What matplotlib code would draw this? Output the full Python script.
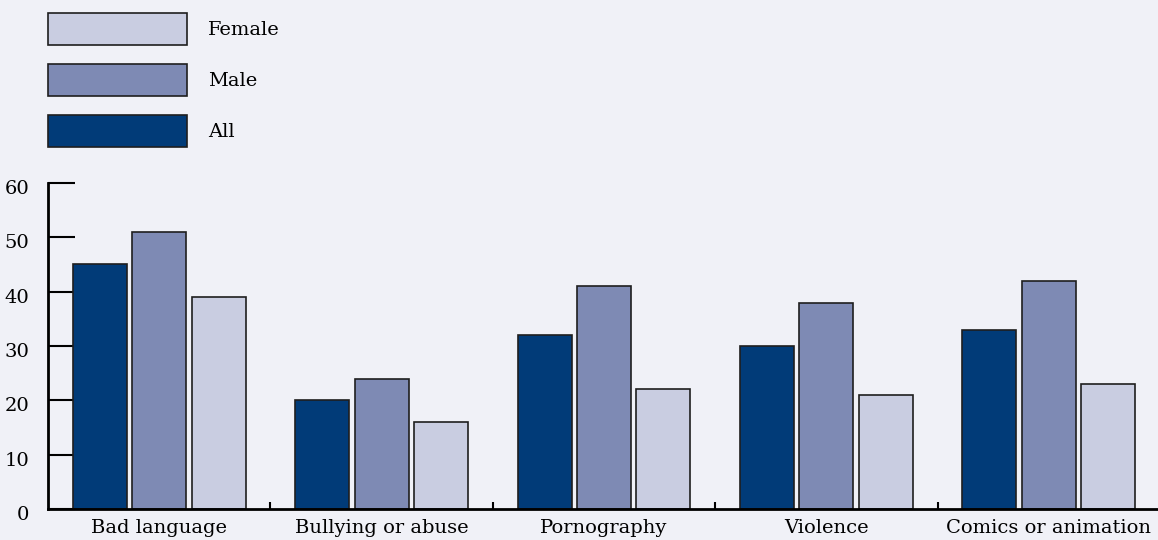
import numpy as np
import matplotlib.pyplot as plt
from matplotlib.patches import Patch
from matplotlib.ticker import FixedLocator
from matplotlib.transforms import ScaledTranslation

# -------------------------------------------------------------------------
# DATA
# -------------------------------------------------------------------------
categories = ["Bad language", "Bullying or abuse", "Pornography", "Violence",
              "Comics or animation"]
all_vals = [45, 20, 32, 30, 33]
male_vals = [51, 24, 41, 38, 42]
female_vals = [39, 16, 22, 21, 23]
y_ticks = [0, 10, 20, 30, 40, 50, 60]

# -------------------------------------------------------------------------
# STYLE
# -------------------------------------------------------------------------
BG = "#f0f1f7"
C_ALL = "#013b78"
C_MALE = "#7e8ab4"
C_FEMALE = "#c9cde1"
EDGE = "#1e1e1e"
FS = 14

plt.rcParams["font.family"] = ["DejaVu Serif"]
plt.rcParams["font.size"] = FS

fig = plt.figure(figsize=(11.58, 5.4), dpi=100, facecolor=BG)
ax = fig.add_axes([48 / 1158, 31 / 540, 1112 / 1158, 326 / 540])
ax.set_facecolor(BG)

x = np.arange(len(categories))
pitch = 0.267
width = 0.243

ax.bar(x - pitch, all_vals, width, color=C_ALL, edgecolor=EDGE, linewidth=1.2,
       label="All", zorder=3)
ax.bar(x, male_vals, width, color=C_MALE, edgecolor=EDGE, linewidth=1.2,
       label="Male", zorder=3)
ax.bar(x + pitch, female_vals, width, color=C_FEMALE, edgecolor=EDGE,
       linewidth=1.2, label="Female", zorder=3)

ax.set_xlim(-0.5, len(categories) - 0.5)
ax.set_ylim(0, 60)

# axes / ticks
for side in ("top", "right"):
    ax.spines[side].set_visible(False)
for side in ("left", "bottom"):
    ax.spines[side].set_linewidth(2)
    ax.spines[side].set_color("black")
    ax.spines[side].set_zorder(4)

ax.set_yticks(y_ticks)
ax.tick_params(axis="y", direction="in", length=19.5, width=1.5, pad=13.5,
               labelsize=FS, colors="black")
# labels in the reference sit a few px below their ticks
shift = ScaledTranslation(0, -4 / 100, fig.dpi_scale_trans)
for lab in ax.get_yticklabels():
    lab.set_transform(lab.get_transform() + shift)

ax.set_xticks(x)
ax.set_xticklabels(categories)
ax.tick_params(axis="x", which="major", length=0, pad=7, labelsize=FS)
ax.xaxis.set_minor_locator(FixedLocator(x[:-1] + 0.5))
ax.tick_params(axis="x", which="minor", direction="in", length=5, width=1.5)

# legend above the plot
handles = [
    Patch(facecolor=C_FEMALE, edgecolor=EDGE, linewidth=1.2, label="Female"),
    Patch(facecolor=C_MALE, edgecolor=EDGE, linewidth=1.2, label="Male"),
    Patch(facecolor=C_ALL, edgecolor=EDGE, linewidth=1.2, label="All"),
]
fig.legend(handles=handles, loc="upper left",
           bbox_to_anchor=(48 / 1158, 1 - 13 / 540), frameon=False,
           borderpad=0, borderaxespad=0, handlelength=7.15, handleheight=2.155,
           labelspacing=0.98, handletextpad=1.08, fontsize=FS)

fig.savefig("out.png", dpi=100, facecolor=BG)
